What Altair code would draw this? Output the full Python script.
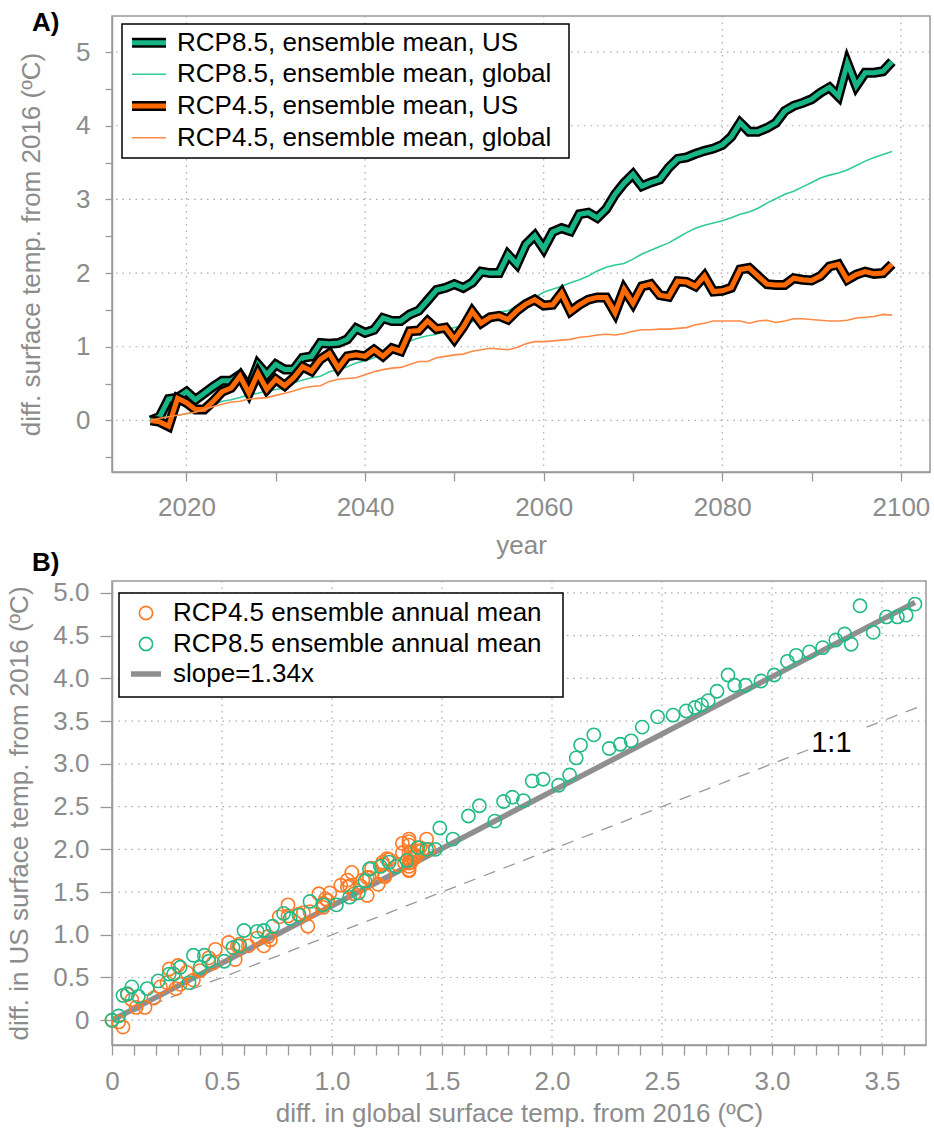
import altair as alt
import pandas as pd

# ---------------- data ----------------
years = list(range(2016, 2100))

us_rcp85 = [0.00, 0.05, 0.29, 0.31, 0.39, 0.28, 0.37, 0.46, 0.54, 0.54,
            0.62, 0.44, 0.76, 0.62, 0.76, 0.69, 0.69, 0.85, 0.87, 1.05,
            1.04, 1.05, 1.10, 1.25, 1.19, 1.23, 1.39, 1.35, 1.35, 1.44,
            1.49, 1.63, 1.77, 1.80, 1.85, 1.80, 1.87, 2.02, 2.00, 2.00,
            2.25, 2.12, 2.39, 2.51, 2.33, 2.56, 2.61, 2.57, 2.80, 2.82,
            2.75, 2.87, 3.07, 3.22, 3.34, 3.18, 3.23, 3.27, 3.43, 3.55,
            3.57, 3.62, 3.66, 3.69, 3.74, 3.85, 4.04, 3.92, 3.92, 3.97,
            4.04, 4.20, 4.27, 4.31, 4.36, 4.45, 4.52, 4.40, 4.85, 4.54,
            4.72, 4.72, 4.74, 4.87]

global_rcp85 = [0.00, 0.03, 0.05, 0.07, 0.09, 0.12, 0.16, 0.21, 0.26, 0.28,
                0.31, 0.35, 0.37, 0.40, 0.42, 0.44, 0.51, 0.55, 0.58, 0.60,
                0.66, 0.69, 0.73, 0.78, 0.81, 0.85, 0.90, 0.96, 1.02, 1.08,
                1.12, 1.15, 1.17, 1.22, 1.26, 1.29, 1.34, 1.39, 1.43, 1.47,
                1.49, 1.55, 1.62, 1.67, 1.74, 1.78, 1.82, 1.87, 1.91, 1.96,
                2.03, 2.08, 2.11, 2.13, 2.19, 2.26, 2.31, 2.36, 2.41, 2.48,
                2.55, 2.61, 2.65, 2.68, 2.71, 2.75, 2.80, 2.83, 2.88, 2.95,
                3.01, 3.07, 3.11, 3.17, 3.23, 3.29, 3.33, 3.36, 3.40, 3.46,
                3.52, 3.57, 3.61, 3.65]

us_rcp45 = [0.00, -0.02, -0.08, 0.30, 0.24, 0.15, 0.15, 0.26, 0.39, 0.44,
            0.60, 0.37, 0.64, 0.42, 0.56, 0.47, 0.58, 0.73, 0.67, 0.83,
            0.91, 0.71, 0.87, 0.89, 0.87, 0.96, 0.87, 0.98, 0.94, 1.21,
            1.22, 1.35, 1.24, 1.26, 1.10, 1.27, 1.48, 1.32, 1.40, 1.42,
            1.37, 1.49, 1.58, 1.64, 1.56, 1.57, 1.73, 1.48, 1.57, 1.64,
            1.67, 1.67, 1.46, 1.78, 1.59, 1.82, 1.85, 1.70, 1.68, 1.89,
            1.88, 1.82, 1.96, 1.75, 1.76, 1.80, 2.05, 2.07, 1.96, 1.85,
            1.84, 1.84, 1.93, 1.91, 1.90, 1.96, 2.09, 2.12, 1.91, 1.98,
            2.02, 1.99, 2.00, 2.12]

global_rcp45 = [0.00, 0.03, 0.05, 0.07, 0.09, 0.11, 0.15, 0.19, 0.22, 0.25,
                0.26, 0.29, 0.30, 0.31, 0.34, 0.37, 0.40, 0.44, 0.46, 0.47,
                0.53, 0.56, 0.57, 0.58, 0.62, 0.66, 0.69, 0.71, 0.72, 0.76,
                0.80, 0.80, 0.85, 0.87, 0.89, 0.90, 0.94, 0.96, 0.98, 0.97,
                0.96, 0.99, 1.04, 1.07, 1.07, 1.08, 1.09, 1.10, 1.13, 1.14,
                1.16, 1.17, 1.16, 1.18, 1.21, 1.23, 1.23, 1.24, 1.24, 1.25,
                1.26, 1.30, 1.32, 1.35, 1.35, 1.35, 1.35, 1.32, 1.35, 1.36,
                1.33, 1.35, 1.38, 1.38, 1.37, 1.36, 1.35, 1.35, 1.36, 1.39,
                1.40, 1.41, 1.44, 1.43]

legend_a_labels = ["RCP8.5, ensemble mean, US", "RCP8.5, ensemble mean, global",
                   "RCP4.5, ensemble mean, US", "RCP4.5, ensemble mean, global"]
legend_b_labels = ["RCP4.5 ensemble annual mean", "RCP8.5 ensemble annual mean",
                   "slope=1.34x"]

a_x_ticks = [2020, 2030, 2040, 2050, 2060, 2070, 2080, 2090, 2100]
a_y_ticks = [-0.5, 0, 0.5, 1, 1.5, 2, 2.5, 3, 3.5, 4, 4.5, 5]
a_grid_x = [2020, 2040, 2060, 2080, 2100]
a_grid_y = [0, 1, 2, 3, 4, 5]

b_x_ticks = [0, 0.1, 0.2, 0.3, 0.4, 0.5, 0.6, 0.7, 0.8, 0.9, 1.0, 1.1, 1.2,
             1.3, 1.4, 1.5, 1.6, 1.7, 1.8, 1.9, 2.0, 2.1, 2.2, 2.3, 2.4, 2.5,
             2.6, 2.7, 2.8, 2.9, 3.0, 3.1, 3.2, 3.3, 3.4, 3.5, 3.6]
b_y_ticks = [0, 0.5, 1.0, 1.5, 2.0, 2.5, 3.0, 3.5, 4.0, 4.5, 5.0]
b_grid_x = [0, 0.5, 1.0, 1.5, 2.0, 2.5, 3.0, 3.5]
b_grid_y = [0, 0.5, 1.0, 1.5, 2.0, 2.5, 3.0, 3.5, 4.0, 4.5, 5.0]

slope_x = [0, 3.65]
slope_y = [0, 4.89]
one_x = [0, 3.17, 3.43, 3.70]
one_y = [0, 3.17, 3.43, 3.70]
one_seg = ["a", "a", "b", "b"]
one_label = ["1:1"]
one_label_x = [3.27]
one_label_y = [3.24]

# ---------------- style ----------------
FONT = "Liberation Sans"
GREY = "#8c8c8c"
GREEN = "#17b486"
GREEN_THIN = "#2fcb98"
ORANGE = "#ff6a00"
ORANGE_THIN = "#ff8a45"
PT_GREEN = "#22bb88"
PT_ORANGE = "#ff7a26"
FS = 26
PT_SIZE = 175

WA, HA = 818, 456
WB, HB = 814, 464

dummy = pd.DataFrame({"k": [0]})

# ---------------- panel A ----------------
dfa = pd.DataFrame({"year": years, "us85": us_rcp85, "gl85": global_rcp85,
                    "us45": us_rcp45, "gl45": global_rcp45})

xa_scale = alt.Scale(domain=[2011.66, 2103.26], nice=False, zero=False)
ya_scale = alt.Scale(domain=[-0.70, 5.49], nice=False, zero=False)
xa_axis = alt.Axis(values=a_x_ticks, format="d", grid=False,
                   labelExpr="datum.value % 20 == 0 ? datum.label : ''",
                   tickSize=9, labelPadding=13, titlePadding=12,
                   labelOverlap=False, labelFlush=False)
ya_axis = alt.Axis(values=a_y_ticks, format=".1f", grid=False,
                   labelExpr="datum.value == round(datum.value) ? '' + round(datum.value) : ''",
                   tickSize=7, labelPadding=15, titlePadding=31,
                   labelOverlap=False, labelFlush=False)
XA_TITLE = "year"
YA_TITLE = "diff. surface temp. from 2016 (ºC)"


def xa(field):
    return alt.X(f"{field}:Q", scale=xa_scale, axis=xa_axis, title=XA_TITLE)


def ya(field):
    return alt.Y(f"{field}:Q", scale=ya_scale, axis=ya_axis, title=YA_TITLE)


grid_a_x = alt.Chart(pd.DataFrame({"year": a_grid_x})).mark_rule(
    color="#aaaaaa", strokeWidth=1.2, strokeDash=[1.5, 5]).encode(x=xa("year"))
grid_a_y = alt.Chart(pd.DataFrame({"v": a_grid_y})).mark_rule(
    color="#aaaaaa", strokeWidth=1.2, strokeDash=[1.5, 5]).encode(y=ya("v"))


def a_line(field, color, width):
    return alt.Chart(dfa).mark_line(color=color, strokeWidth=width,
                                    strokeJoin="miter").encode(x=xa("year"), y=ya(field))


layers_a = [grid_a_x, grid_a_y,
            a_line("us85", "black", 10), a_line("us85", GREEN, 5),
            a_line("gl85", GREEN_THIN, 1.6),
            a_line("us45", "black", 10), a_line("us45", ORANGE, 5),
            a_line("gl45", ORANGE_THIN, 1.6)]

# legend A (drawn in pixel space)
layers_a.append(alt.Chart(dummy).mark_rect(fill="white", stroke="black", strokeWidth=1.5).encode(
    x=alt.value(10), x2=alt.value(457), y=alt.value(8), y2=alt.value(142)))
rows_a = [26.7, 58.3, 90.0, 121.7]
sym_a = [("black", 10, GREEN, 5), (None, 0, GREEN_THIN, 1.6),
         ("black", 10, ORANGE, 5), (None, 0, ORANGE_THIN, 1.6)]
for lab, ry, (c1, w1, c2, w2) in zip(legend_a_labels, rows_a, sym_a):
    if c1:
        layers_a.append(alt.Chart(dummy).mark_rule(color=c1, strokeWidth=w1).encode(
            x=alt.value(20), x2=alt.value(54), y=alt.value(ry)))
    layers_a.append(alt.Chart(dummy).mark_rule(color=c2, strokeWidth=w2).encode(
        x=alt.value(20), x2=alt.value(54), y=alt.value(ry)))
    layers_a.append(alt.Chart(dummy).mark_text(
        text=lab, align="left", baseline="middle", fontSize=FS, font=FONT, color="black").encode(
        x=alt.value(65), y=alt.value(ry)))

layers_a.append(alt.Chart(dummy).mark_text(
    text="A)", align="left", baseline="alphabetic", fontSize=FS, font=FONT,
    fontWeight="bold", color="black").encode(x=alt.value(-80), y=alt.value(15)))

panel_a = alt.layer(*layers_a).properties(width=WA, height=HA)

# ---------------- panel B ----------------
xb_scale = alt.Scale(domain=[0, 3.70], nice=False, zero=False)
yb_scale = alt.Scale(domain=[-0.29, 5.14], nice=False, zero=False)
lab_b = "datum.value == 0 ? '0' : format(datum.value, '.1f')"
xb_axis = alt.Axis(values=b_x_ticks, grid=False,
                   labelExpr="abs(datum.value * 2 - round(datum.value * 2)) < 0.001 ? "
                             "(datum.value == 0 ? '0' : format(datum.value, '.1f')) : ''",
                   tickSize=10, labelPadding=13, titlePadding=6,
                   labelOverlap=False, labelFlush=False)
yb_axis = alt.Axis(values=b_y_ticks, grid=False, labelExpr=lab_b,
                   tickSize=12, labelPadding=11, titlePadding=20,
                   labelOverlap=False, labelFlush=False)
XB_TITLE = "diff. in global surface temp. from 2016 (ºC)"
YB_TITLE = "diff. in US surface temp. from 2016 (ºC)"


def xb(field):
    return alt.X(f"{field}:Q", scale=xb_scale, axis=xb_axis, title=XB_TITLE)


def yb(field):
    return alt.Y(f"{field}:Q", scale=yb_scale, axis=yb_axis, title=YB_TITLE)


grid_b_x = alt.Chart(pd.DataFrame({"g": b_grid_x})).mark_rule(
    color="#aaaaaa", strokeWidth=1.2, strokeDash=[1.5, 5]).encode(x=xb("g"))
grid_b_y = alt.Chart(pd.DataFrame({"u": b_grid_y})).mark_rule(
    color="#aaaaaa", strokeWidth=1.2, strokeDash=[1.5, 5]).encode(y=yb("u"))

one_df = pd.DataFrame({"g": one_x, "u": one_y, "seg": one_seg})
one_line = alt.Chart(one_df).mark_line(color="#999999", strokeWidth=1.3,
                                       strokeDash=[12, 9], clip=True).encode(
    x=xb("g"), y=yb("u"), detail="seg:N")
slope_line = alt.Chart(pd.DataFrame({"g": slope_x, "u": slope_y})).mark_line(
    color="#8f8f8f", strokeWidth=5.5).encode(x=xb("g"), y=yb("u"))
one_text = alt.Chart(pd.DataFrame({"g": one_label_x, "u": one_label_y, "t": one_label})).mark_text(
    fontSize=29, font=FONT, color="black", align="center", baseline="middle").encode(
    x=xb("g"), y=yb("u"), text="t:N")

pts45 = alt.Chart(pd.DataFrame({"g": global_rcp45, "u": us_rcp45})).mark_point(
    shape="circle", filled=False, color=PT_ORANGE, size=PT_SIZE, strokeWidth=1.6, opacity=1).encode(
    x=xb("g"), y=yb("u"))
pts85 = alt.Chart(pd.DataFrame({"g": global_rcp85, "u": us_rcp85})).mark_point(
    shape="circle", filled=False, color=PT_GREEN, size=PT_SIZE, strokeWidth=1.6, opacity=1).encode(
    x=xb("g"), y=yb("u"))

layers_b = [grid_b_x, grid_b_y, one_line, one_text, slope_line, pts45, pts85]

layers_b.append(alt.Chart(dummy).mark_rect(fill="white", stroke="black", strokeWidth=1.5).encode(
    x=alt.value(7), x2=alt.value(451), y=alt.value(12), y2=alt.value(116)))
rows_b = [32, 63, 93]
layers_b.append(alt.Chart(dummy).mark_point(shape="circle", filled=False, color=PT_ORANGE,
                                            size=PT_SIZE, strokeWidth=1.6, opacity=1).encode(
    x=alt.value(34), y=alt.value(rows_b[0])))
layers_b.append(alt.Chart(dummy).mark_point(shape="circle", filled=False, color=PT_GREEN,
                                            size=PT_SIZE, strokeWidth=1.6, opacity=1).encode(
    x=alt.value(34), y=alt.value(rows_b[1])))
layers_b.append(alt.Chart(dummy).mark_rule(color="#8f8f8f", strokeWidth=5.5).encode(
    x=alt.value(19), x2=alt.value(49), y=alt.value(rows_b[2])))
for lab, ry in zip(legend_b_labels, rows_b):
    layers_b.append(alt.Chart(dummy).mark_text(
        text=lab, align="left", baseline="middle", fontSize=FS, font=FONT, color="black").encode(
        x=alt.value(61), y=alt.value(ry)))

layers_b.append(alt.Chart(dummy).mark_text(
    text="B)", align="left", baseline="alphabetic", fontSize=FS, font=FONT,
    fontWeight="bold", color="black").encode(x=alt.value(-80), y=alt.value(-10)))

panel_b = alt.layer(*layers_b).properties(width=WB, height=HB)

chart = alt.vconcat(panel_a, panel_b, spacing=109, bounds="flush").properties(
    padding={"left": 6, "top": 9, "right": 2, "bottom": 2}
).configure_view(
    stroke="#999999", strokeWidth=1.5
).configure_axis(
    labelFont=FONT, titleFont=FONT, labelFontSize=FS, titleFontSize=FS,
    labelColor=GREY, titleColor=GREY, titleFontWeight="normal",
    tickColor="#999999", domainColor="#999999", tickWidth=1.3, domainWidth=1.5
).configure_text(font=FONT)

chart.save("out.html", embed_options={"renderer": "svg", "actions": False})
